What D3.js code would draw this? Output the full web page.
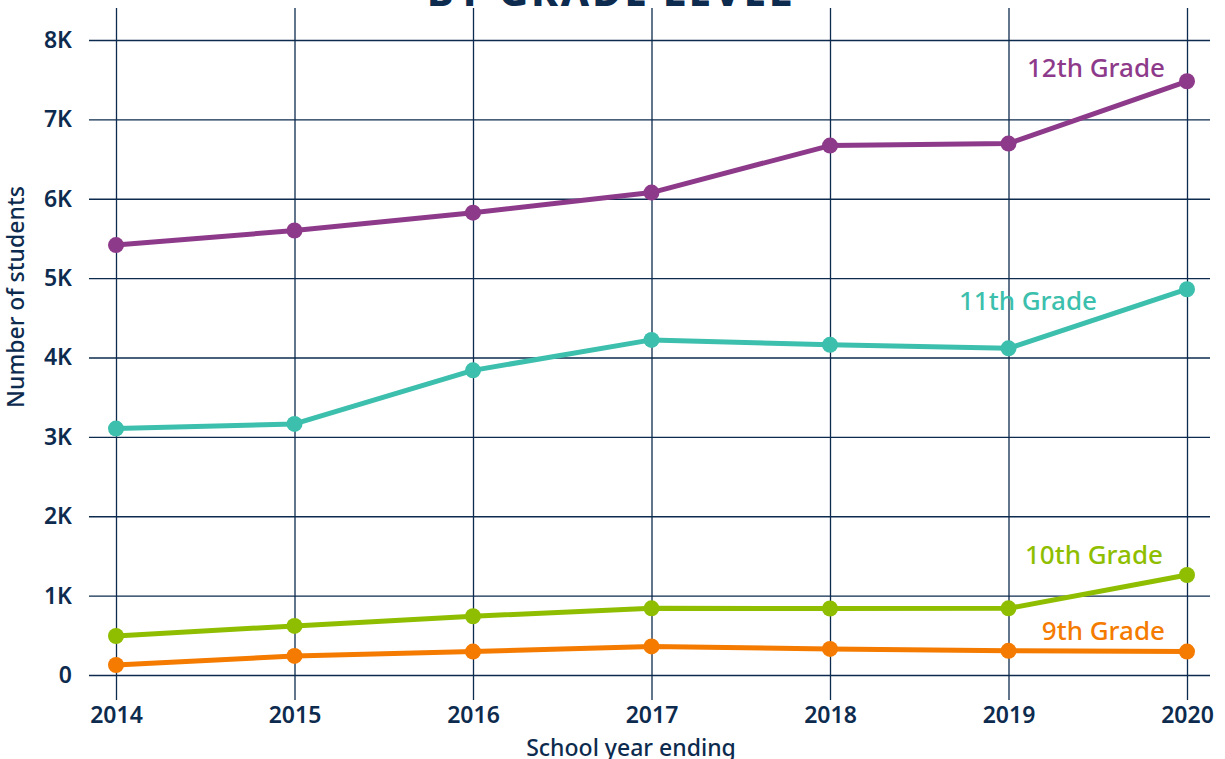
<!DOCTYPE html>
<html><head><meta charset="utf-8">
<script src="https://cdn.jsdelivr.net/npm/d3@7"></script>
<style>
body{margin:0;background:#fff;}
svg{display:block;font-family:"Noto Sans",sans-serif;}
</style></head>
<body><svg id="chart" width="1225" height="759"></svg>
<script>
const years = [2014, 2015, 2016, 2017, 2018, 2019, 2020];
const grade12 = [5416, 5600, 5825, 6078, 6670, 6695, 7480];
const grade11 = [3105, 3163, 3838, 4222, 4160, 4115, 4860];
const grade10 = [491, 618, 740, 840, 838, 840, 1260];
const grade9 = [126, 240, 295, 360, 328, 305, 295];
const seriesNames = ["12th Grade", "11th Grade", "10th Grade", "9th Grade"];
const seriesColors = ["#8e3a8a", "#3cbfad", "#8fbe00", "#f47b00"];
const yTicks = [0, 1000, 2000, 3000, 4000, 5000, 6000, 7000, 8000];
const yTickLabels = ["0", "1K", "2K", "3K", "4K", "5K", "6K", "7K", "8K"];

const svg = d3.select("#chart");
const navy = "#0d2b4e";
const x = d3.scaleLinear().domain([2014, 2020]).range([116, 1187]);
const y = d3.scaleLinear().domain([0, 8000]).range([675, 40]);

// title (cut off at the top edge, as in the reference)
svg.append("text").attr("x", 611).attr("y", 6).attr("text-anchor", "middle")
  .attr("font-size", 40).attr("font-weight", 800).attr("letter-spacing", 3)
  .attr("fill", navy).text("BY GRADE LEVEL");

// y grid + labels
const yAxis = d3.axisLeft(y).tickValues(yTicks)
  .tickFormat((d, i) => yTickLabels[i]).tickSize(-(1210 - 89)).tickPadding(17);
const gy = svg.append("g").attr("transform", "translate(89,0)").call(yAxis);
gy.select(".domain").remove();
gy.selectAll(".tick line").attr("stroke", navy).attr("stroke-width", 1.3);
gy.selectAll(".tick text").attr("fill", navy).attr("font-size", 23).attr("font-weight", 600)
  .attr("font-family", '"Noto Sans",sans-serif');

// x grid + labels
const xAxis = d3.axisBottom(x).tickValues(years).tickFormat(d3.format("d"))
  .tickSize(-(700 - 8)).tickPadding(7);
const gx = svg.append("g").attr("transform", "translate(0,700)").call(xAxis);
gx.select(".domain").remove();
gx.selectAll(".tick line").attr("stroke", navy).attr("stroke-width", 1.3);
gx.selectAll(".tick text").attr("fill", navy).attr("font-size", 23).attr("font-weight", 600)
  .attr("font-family", '"Noto Sans",sans-serif');

// axis titles
svg.append("text").attr("transform", "translate(24,297) rotate(-90)").attr("text-anchor", "middle")
  .attr("font-size", 23).attr("font-weight", 500).attr("fill", navy).text("Number of students");
svg.append("text").attr("x", 631).attr("y", 756).attr("text-anchor", "middle")
  .attr("font-size", 23).attr("font-weight", 500).attr("fill", navy).text("School year ending");

const allSeries = [grade12, grade11, grade10, grade9];
const line = d3.line().x((d, i) => x(years[i])).y(d => y(d));
[3, 2, 1, 0].forEach(k => {
  const vals = allSeries[k];
  svg.append("path").datum(vals).attr("d", line).attr("fill", "none")
    .attr("stroke", seriesColors[k]).attr("stroke-width", 5).attr("stroke-linejoin", "round");
  svg.append("g").selectAll("circle").data(vals).join("circle")
    .attr("cx", (d, i) => x(years[i])).attr("cy", d => y(d)).attr("r", 8)
    .attr("fill", seriesColors[k]);
});

// series labels
const labelPos = [
  {x: 1165, y: 77}, {x: 1097, y: 310}, {x: 1163, y: 564}, {x: 1165, y: 640}
];
seriesNames.forEach((name, k) => {
  svg.append("text").attr("x", labelPos[k].x).attr("y", labelPos[k].y).attr("text-anchor", "end")
    .attr("font-size", 26).attr("font-weight", 500).attr("fill", seriesColors[k]).text(name);
});
</script></body></html>
